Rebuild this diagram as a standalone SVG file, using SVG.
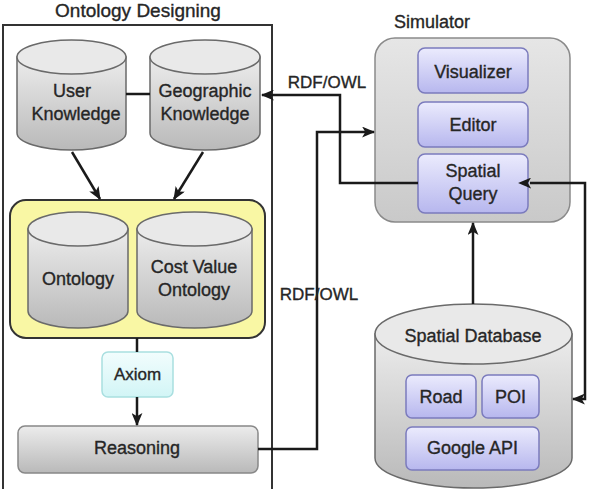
<svg xmlns="http://www.w3.org/2000/svg" width="589" height="489" viewBox="0 0 589 489">
<defs>
<linearGradient id="gGray" x1="0" y1="0" x2="0" y2="1"><stop offset="0" stop-color="#ececec"/><stop offset="1" stop-color="#b9b9b9"/></linearGradient>
<linearGradient id="gSim" x1="0" y1="0" x2="0" y2="1"><stop offset="0" stop-color="#e6e6e6"/><stop offset="1" stop-color="#c9c9c9"/></linearGradient>
<linearGradient id="gLav" x1="0" y1="0" x2="0" y2="1"><stop offset="0" stop-color="#ebebfd"/><stop offset="1" stop-color="#b7b7ee"/></linearGradient>
<linearGradient id="gCyan" x1="0" y1="0" x2="0" y2="1"><stop offset="0" stop-color="#f2fdfd"/><stop offset="1" stop-color="#d2f5f6"/></linearGradient>
<marker id="arr" viewBox="0 0 12 10" refX="11" refY="5" markerWidth="5.2" markerHeight="4.4" orient="auto" markerUnits="strokeWidth">
<path d="M0,0 L12,5 L0,10 L3,5 Z" fill="#1a1a1a"/>
</marker>
<marker id="arrS" viewBox="0 0 12 10" refX="1" refY="5" markerWidth="5.2" markerHeight="4.4" orient="auto-start-reverse" markerUnits="strokeWidth">
<path d="M0,0 L12,5 L0,10 L3,5 Z" fill="#1a1a1a"/>
</marker>
</defs>
<style>
text{font-family:"Liberation Sans",Arial,sans-serif;fill:#262626;stroke:#262626;stroke-width:0.35;text-anchor:middle}
.t17{font-size:17px}
.t18{font-size:18px}
.cyl{fill:url(#gGray);stroke:#6a6a6a;stroke-width:1.5}
.cylTop{fill:#e9e9e9;stroke:#6a6a6a;stroke-width:1.5}
.lav{fill:url(#gLav);stroke:#7b7bbd;stroke-width:1.5}
.con{fill:none;stroke:#1a1a1a;stroke-width:2.5}
</style>
<rect width="589" height="489" fill="#ffffff"/>

<g id="frame">
<rect x="3" y="25" width="269" height="475" fill="none" stroke="#333" stroke-width="2"/>
<text class="t18" x="138" y="17" style="font-size:19px">Ontology Designing</text>
</g>

<g id="user-knowledge">
<path class="cyl" d="M17,57 L17,133 A54.5,17 0 0 0 126,133 L126,57 Z"/>
<ellipse class="cylTop" cx="71.5" cy="57" rx="54.5" ry="17"/>
<text class="t18" x="72" y="97">User</text>
<text class="t18" x="76" y="120">Knowledge</text>
</g>

<g id="geographic-knowledge">
<path class="cyl" d="M150,57 L150,133 A55,17 0 0 0 260,133 L260,57 Z"/>
<ellipse class="cylTop" cx="205" cy="57" rx="55" ry="17"/>
<text class="t18" x="205" y="97">Geographic</text>
<text class="t18" x="205" y="120">Knowledge</text>
</g>

<g id="ontology-group">
<rect x="10" y="200" width="255" height="138" rx="16" fill="#f9f7a4" stroke="#333" stroke-width="2"/>
</g>

<g id="ontology">
<path class="cyl" d="M28,229 L28,311 A50,17 0 0 0 128,311 L128,229 Z"/>
<ellipse class="cylTop" cx="78" cy="229" rx="50" ry="17"/>
<text class="t18" x="78" y="285">Ontology</text>
</g>

<g id="cost-value-ontology">
<path class="cyl" d="M137,229 L137,311 A57.5,17 0 0 0 252,311 L252,229 Z"/>
<ellipse class="cylTop" cx="194.5" cy="229" rx="57.5" ry="17"/>
<text class="t18" x="194" y="273">Cost Value</text>
<text class="t18" x="194" y="296">Ontology</text>
</g>

<g id="axiom">
<rect x="102" y="352" width="71" height="45" rx="6" fill="url(#gCyan)" stroke="#a9dfe0" stroke-width="1.5"/>
<text class="t17" x="137.5" y="380">Axiom</text>
</g>

<g id="reasoning">
<rect x="18" y="426" width="240" height="47" rx="7" fill="url(#gGray)" stroke="#888" stroke-width="1.5"/>
<text class="t18" x="137" y="454">Reasoning</text>
</g>

<g id="simulator">
<text class="t18" x="432" y="28">Simulator</text>
<rect x="375" y="38" width="195" height="184" rx="20" fill="url(#gSim)" stroke="#8a8a8a" stroke-width="1.5"/>
</g>

<g id="visualizer">
<rect class="lav" x="418" y="48" width="110" height="45" rx="7"/>
<text class="t18" x="473" y="78">Visualizer</text>
</g>

<g id="editor">
<rect class="lav" x="418" y="102" width="110" height="45" rx="7"/>
<text class="t18" x="473" y="131">Editor</text>
</g>

<g id="spatial-query">
<rect class="lav" x="418" y="154" width="110" height="59" rx="7"/>
<text class="t18" x="473" y="177">Spatial</text>
<text class="t18" x="473" y="200">Query</text>
</g>

<g id="spatial-database">
<path class="cyl" d="M375,334 L375,458 A98.5,30 0 0 0 572,458 L572,334 Z"/>
<ellipse class="cylTop" cx="473.5" cy="334" rx="98.5" ry="30"/>
<text class="t18" x="473" y="342">Spatial Database</text>
</g>

<g id="road">
<rect class="lav" x="406" y="375" width="70" height="43" rx="6"/>
<text class="t18" x="441" y="403">Road</text>
</g>

<g id="poi">
<rect class="lav" x="482" y="375" width="57" height="43" rx="6"/>
<text class="t18" x="510.5" y="403">POI</text>
</g>

<g id="google-api">
<rect class="lav" x="406" y="427" width="133" height="43" rx="6"/>
<text class="t18" x="472.5" y="454">Google API</text>
</g>

<g id="connectors">
<line class="con" x1="126" y1="94" x2="150" y2="94"/>
<line class="con" x1="72" y1="152" x2="100" y2="199" marker-end="url(#arr)"/>
<line class="con" x1="203" y1="152" x2="174" y2="199" marker-end="url(#arr)"/>
<line class="con" x1="137" y1="338" x2="137" y2="352"/>
<line class="con" x1="137" y1="397" x2="137" y2="425" marker-end="url(#arr)"/>
<polyline class="con" points="258,449 317,449 317,132 374,132" marker-end="url(#arr)"/>
<polyline class="con" points="418,183 340,183 340,95 262,95" marker-end="url(#arr)"/>
<line class="con" x1="473" y1="304" x2="473" y2="223" marker-end="url(#arr)"/>
<polyline class="con" points="530,183 585,183 585,399 573,399" marker-start="url(#arrS)" marker-end="url(#arr)"/>
<text class="t17" x="327" y="88">RDF/OWL</text>
<text class="t17" x="319" y="300">RDF/OWL</text>
</g>
</svg>
